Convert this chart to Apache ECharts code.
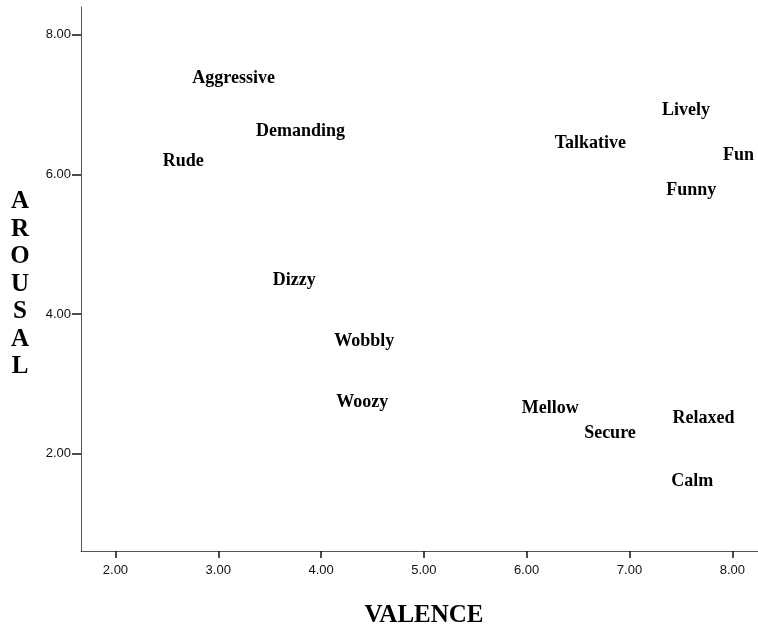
<!DOCTYPE html>
<html>
<head>
<meta charset="utf-8">
<script src="https://cdn.jsdelivr.net/npm/echarts@6/dist/echarts.min.js"></script>
<style>
  html, body { margin: 0; padding: 0; background: #fff; }
  #chart { width: 758px; height: 631px; }
</style>
</head>
<body>
<div id="chart"></div>
<script>
// words placed on valence (x) / arousal (y)
var words   = ['Aggressive', 'Demanding', 'Rude', 'Talkative', 'Lively', 'Fun', 'Funny',
               'Dizzy', 'Wobbly', 'Woozy', 'Mellow', 'Secure', 'Relaxed', 'Calm'];
var valence = [3.15, 3.80, 2.66, 6.62, 7.55, 8.06, 7.60, 3.74, 4.42, 4.40, 6.23, 6.81, 7.72, 7.61];
var arousal = [7.37, 6.61, 6.18, 6.44, 6.92, 6.27, 5.77, 4.49, 3.61, 2.74, 2.65, 2.29, 2.51, 1.61];

var xTicks = [2, 3, 4, 5, 6, 7, 8];
var yTicks = [2, 4, 6, 8];

var points = words.map(function (w, i) {
    return { name: w, value: [valence[i], arousal[i]] };
});

var myChart = echarts.init(document.getElementById('chart'));

var option = {
    animation: false,
    grid: { left: 81, right: 0, top: 7, bottom: 80, outerBoundsMode: 'none', containLabel: false },
    xAxis: {
        type: 'value',
        min: 1.665,
        max: 8.25,
        name: 'VALENCE',
        nameLocation: 'middle',
        nameGap: 52,
        nameTextStyle: {
            fontFamily: 'Liberation Serif', fontWeight: 'bold', fontSize: 25, color: '#000',
            padding: [0, 0, 0, 9]
        },
        splitLine: { show: false },
        axisLine: { lineStyle: { color: '#555', width: 1 } },
        axisTick: { customValues: xTicks, length: 7, lineStyle: { color: '#111', width: 1.5 } },
        axisLabel: {
            customValues: xTicks, margin: 13,
            fontFamily: 'Liberation Sans', fontSize: 13, color: '#111',
            formatter: function (v) { return v.toFixed(2); }
        }
    },
    yAxis: {
        type: 'value',
        min: 0.61,
        max: 8.395,
        // blank first line pushes the stacked letters down a little
        name: '{gap|}\nA\nR\nO\nU\nS\nA\nL',
        nameLocation: 'middle',
        nameRotate: 0,
        nameGap: 61,
        nameTextStyle: {
            fontFamily: 'Liberation Serif', fontWeight: 'bold', fontSize: 25, color: '#000',
            lineHeight: 27.5, align: 'center',
            rich: { gap: { lineHeight: 11, fontSize: 1 } }
        },
        splitLine: { show: false },
        axisLine: { lineStyle: { color: '#555', width: 1 } },
        axisTick: { customValues: yTicks, length: 9, lineStyle: { color: '#111', width: 1.5 } },
        axisLabel: {
            customValues: yTicks, margin: 10,
            fontFamily: 'Liberation Sans', fontSize: 13, color: '#111',
            formatter: function (v) { return v.toFixed(2); }
        }
    },
    series: [{
        type: 'scatter',
        symbolSize: 1,
        itemStyle: { color: '#fff' },
        data: points,
        label: {
            show: true,
            position: 'inside',
            formatter: '{b}',
            fontFamily: 'Liberation Serif',
            fontWeight: 'bold',
            fontSize: 18,
            color: '#000',
            textBorderWidth: 0,
            opacity: 1
        }
    }]
};

myChart.setOption(option);
</script>
</body>
</html>
